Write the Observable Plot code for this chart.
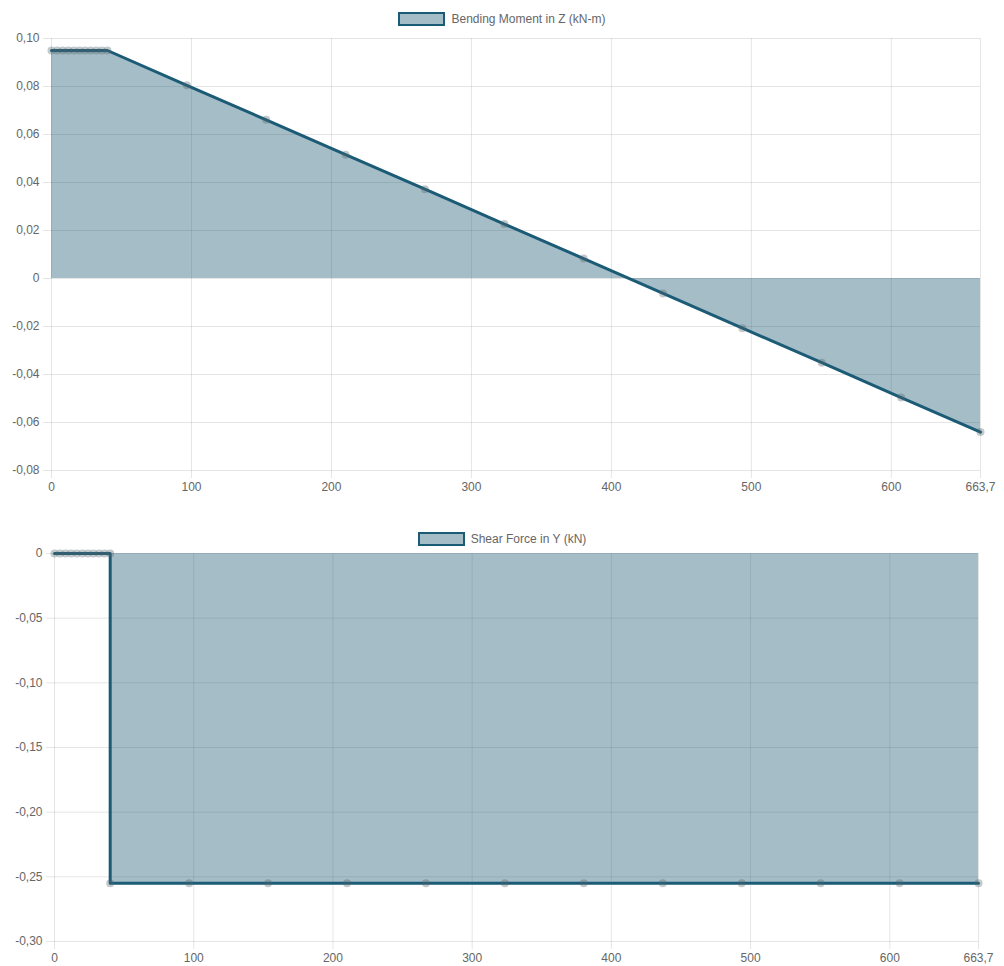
<!DOCTYPE html>
<html>
<head>
<meta charset="utf-8">
<script src="https://cdn.jsdelivr.net/npm/d3@7"></script>
<script src="https://cdn.jsdelivr.net/npm/@observablehq/plot@0.6"></script>
<style>
  html, body { margin: 0; padding: 0; background: #fff; }
  #root { position: relative; width: 1004px; height: 966px; font-family: Arial, "Liberation Sans", Helvetica, sans-serif; }
  .legend { position: absolute; left: 0; width: 1004px; height: 14px; display: flex; justify-content: center; align-items: center; gap: 6px; font-size: 12px; color: #666; }
  .legend .box { width: 43px; height: 10px; border: 2px solid #1b5b75; background: rgba(29, 90, 115, 0.4); }
  .chart { position: absolute; left: 0; }
  .chart svg { display: block; }
</style>
</head>
<body>
<div id="root">
  <div class="legend" id="leg1" style="top:12px"><div class="box"></div><span>Bending Moment in Z (kN-m)</span></div>
  <div class="chart" id="chart1" style="top:0px"></div>
  <div class="legend" id="leg2" style="top:532px"><div class="box"></div><span>Shear Force in Y (kN)</span></div>
  <div class="chart" id="chart2" style="top:500px"></div>
</div>
<script>
// ---- Data ----
const momentX = [0, 4, 8, 12, 16, 20, 24, 28, 32, 36, 40, 96.7, 153.4, 210.1, 266.8, 323.5, 380.2, 436.9, 493.6, 550.3, 607.0, 663.7];
const momentZ = [0.095, 0.095, 0.095, 0.095, 0.095, 0.095, 0.095, 0.095, 0.095, 0.095, 0.095, 0.0805, 0.0661, 0.0516, 0.0372, 0.0227, 0.0083, -0.0062, -0.0207, -0.0351, -0.0496, -0.0640];

const shearX = [0, 4, 8, 12, 16, 20, 24, 28, 32, 36, 40, 40, 96.7, 153.4, 210.1, 266.8, 323.5, 380.2, 436.9, 493.6, 550.3, 607.0, 663.7];
const shearY = [0, 0, 0, 0, 0, 0, 0, 0, 0, 0, 0, -0.255, -0.255, -0.255, -0.255, -0.255, -0.255, -0.255, -0.255, -0.255, -0.255, -0.255, -0.255];

const xTicks = [0, 100, 200, 300, 400, 500, 600, 663.7];
const yTicksMoment = [0.10, 0.08, 0.06, 0.04, 0.02, 0, -0.02, -0.04, -0.06, -0.08];
const yTicksShear = [0, -0.05, -0.10, -0.15, -0.20, -0.25, -0.30];

const xDomain = [0, 663.7];
const momentDomain = [-0.08, 0.10];
const shearDomain = [-0.30, 0];

// ---- Formatting ----
const locale = d3.formatLocale({decimal: ",", thousands: ".", grouping: [3], currency: ["", ""], minus: "-"});
const fmtX = locale.format("~g");
const fmtY = d => Math.abs(d) < 1e-12 ? "0" : locale.format(".2f")(d);

const lineColor = "#1b5b75";
const fillColor = "rgb(29,90,115)";
const font = "Arial, 'Liberation Sans', Helvetica, sans-serif";

function makeChart(xs, ys, yTicks, yDomain, opts) {
  const data = xs.map((x, i) => ({x, y: ys[i]}));
  return Plot.plot({
    width: 1004,
    height: opts.height,
    marginTop: opts.marginTop,
    marginBottom: opts.marginBottom,
    marginLeft: opts.marginLeft,
    marginRight: opts.marginRight,
    style: {fontFamily: font, fontSize: "12px", color: "#666", background: "transparent", overflow: "visible"},
    x: {domain: xDomain},
    y: {domain: yDomain},
    marks: [
      Plot.gridX(xTicks, {stroke: "#000", strokeOpacity: 0.1}),
      Plot.gridY(yTicks, {stroke: "#000", strokeOpacity: 0.1}),
      Plot.axisX(xTicks, {tickSize: 8, tickPadding: 4, stroke: "#000", strokeOpacity: 0.1, fill: "#666", tickFormat: fmtX, label: null}),
      Plot.axisY(yTicks, {tickSize: 8, tickPadding: 4, stroke: "#000", strokeOpacity: 0.1, fill: "#666", tickFormat: fmtY, label: null}),
      Plot.areaY(data, {x: "x", y: "y", fill: fillColor, fillOpacity: 0.4}),
      Plot.line(data, {x: "x", y: "y", stroke: lineColor, strokeWidth: 3}),
      Plot.dot(data, {x: "x", y: "y", r: 4, fill: "rgb(80,100,110)", fillOpacity: 0.35, stroke: "none"})
    ]
  });
}

document.getElementById("chart1").appendChild(
  makeChart(momentX, momentZ, yTicksMoment, momentDomain, {height: 500, marginTop: 38, marginBottom: 30, marginLeft: 51, marginRight: 24})
);
document.getElementById("chart2").appendChild(
  makeChart(shearX, shearY, yTicksShear, shearDomain, {height: 466, marginTop: 53, marginBottom: 25, marginLeft: 54, marginRight: 26})
);
</script>
</body>
</html>
